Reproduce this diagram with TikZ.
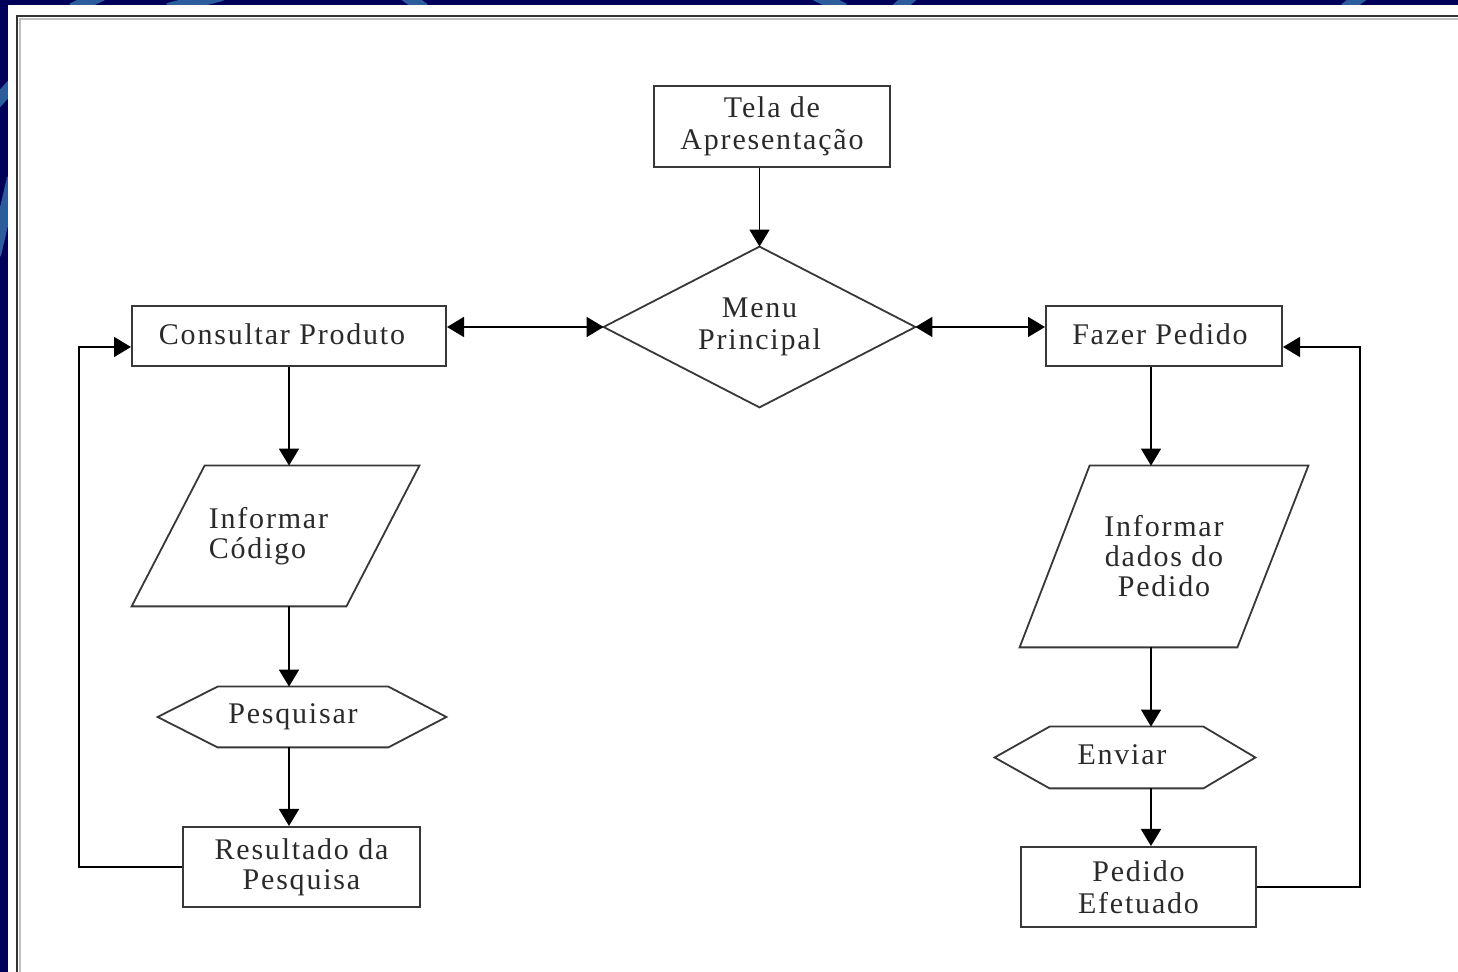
\documentclass[tikz,border=0pt]{standalone}
\usepackage{fontspec}
\setmainfont{Liberation Serif}[LetterSpace=6]
\usetikzlibrary{arrows.meta}
\definecolor{navybg}{HTML}{00005A}
\definecolor{bandblue}{HTML}{2B5C9C}
\definecolor{textgray}{HTML}{2A2A2A}
\tikzset{
  box/.style={draw=black!78, line width=1pt, inner sep=0pt, fill=white,
    font=\fontsize{15pt}{16pt}\selectfont, text=textgray, align=center},
  bbox/.style={draw=none, inner sep=0pt,
    font=\fontsize{15pt}{16pt}\selectfont, text=textgray, align=center},
  tight/.style={font=\fontsize{15pt}{15pt}\selectfont},
  outline/.style={draw=black!78, line width=0.9pt, line join=miter},
  conn/.style={draw=black, line width=0.8pt, -{Triangle[length=8.5pt,width=10pt]}},
  dconn/.style={draw=black, line width=0.8pt, {Triangle[length=8.5pt,width=10pt]}-{Triangle[length=8.5pt,width=10pt]}},
  band/.style={draw=bandblue, line width=6pt},
}
\begin{document}
\begin{tikzpicture}[x=0.5pt,y=-0.5pt]
\useasboundingbox (0,0) rectangle (1458,972);
% background
\fill[navybg] (0,0) rectangle (1458,972);
\begin{scope}[band]
  \draw (72,9) -- (102,-5);
  \draw (168,9) -- (222,-5);
  \draw (405,-5) -- (424,9);
  \draw (816,-5) -- (844,9);
  \draw (897,9) -- (913,-5);
  \draw (1345,9) -- (1363,-5);
  \draw (-5,104) -- (13,84);
  \draw (-5,255) -- (13,178);
\end{scope}
\fill[white] (8,5) rectangle (1458,972);
% frame
\draw[black!25, line width=1pt] (20,975) -- (20,19) -- (1460,19);
\draw[black!80, line width=1.4pt] (17,975) -- (17,16) -- (1460,16);

% column coordinates
\coordinate (lcol) at (289,0);
\coordinate (rcol) at (1151,0);

% nodes
\node[box, minimum width=118pt, minimum height=40.5pt] (tela) at (772,126.5) {\raisebox{-1.5pt}{Tela de}\\\raisebox{-1.5pt}{Apresentação}};
\node[bbox, minimum width=155.5pt, minimum height=80pt] (menu) at (759.5,327) {Menu\\Principal};
\node[box, minimum width=157pt, minimum height=30pt] (cons) at (289,336) {\hspace*{-7pt}\raisebox{2pt}{Consultar Produto}};
\node[box, minimum width=118pt, minimum height=30pt] (faz) at (1164,336) {\hspace*{-4pt}\raisebox{2pt}{Fazer Pedido}};
\node[bbox, tight, minimum width=143.5pt, minimum height=70pt, align=left] (inf1) at (275.5,536) {Informar\hspace*{7pt}\\Código};
\node[bbox, minimum width=144pt, minimum height=30pt] (pesq) at (302,717) {\raisebox{1pt}{Pesquisar}\hspace*{9pt}};
\node[box, tight, minimum width=118.5pt, minimum height=40pt] (res) at (301.5,867) {Resultado da\\Pesquisa};
\node[bbox, tight, minimum width=144pt, minimum height=90.5pt] (inf2) at (1164,556.5) {\raisebox{-1.5pt}{Informar}\\\raisebox{-1.5pt}{dados do}\\\raisebox{-1.5pt}{Pedido}};
\node[bbox, minimum width=130pt, minimum height=30.5pt] (env) at (1125,757.5) {\raisebox{2.5pt}{Enviar}\hspace*{3pt}};
\node[box, minimum width=117.5pt, minimum height=40pt] (pe) at (1138.5,887) {Pedido\\Efetuado};

% outlines of special shapes
\draw[outline] (menu.north) -- (menu.east) -- (menu.south) -- (menu.west) -- cycle;
\draw[outline] ([xshift=36.5pt]inf1.north west) -- (inf1.north east) -- ([xshift=-36.5pt]inf1.south east) -- (inf1.south west) -- cycle;
\draw[outline] ([xshift=35pt]inf2.north west) -- (inf2.north east) -- ([xshift=-35.5pt]inf2.south east) -- (inf2.south west) -- cycle;
\draw[outline] (pesq.west) -- ([xshift=30pt]pesq.north west) -- ([xshift=-29pt]pesq.north east) -- (pesq.east) -- ([xshift=-29pt]pesq.south east) -- ([xshift=30pt]pesq.south west) -- cycle;
\draw[outline] (env.west) -- ([xshift=27.5pt]env.north west) -- ([xshift=-26pt]env.north east) -- (env.east) -- ([xshift=-26pt]env.south east) -- ([xshift=27.5pt]env.south west) -- cycle;

% connectors
\draw[conn] (menu.north |- tela.south) -- (menu.north);
\draw[dconn] (menu.west -| cons.east) -- (menu.west);
\draw[dconn] (menu.east) -- (menu.east -| faz.west);

\draw[conn] (cons.south -| lcol) -- (inf1.north -| lcol);
\draw[conn] (inf1.south -| lcol) -- (pesq.north -| lcol);
\draw[conn] (pesq.south -| lcol) -- (res.north -| lcol);

\draw[conn] (faz.south -| rcol) -- (inf2.north -| rcol);
\draw[conn] (inf2.south -| rcol) -- (env.north -| rcol);
\draw[conn] (env.south -| rcol) -- (pe.north -| rcol);

\coordinate (lloop) at (79,347);
\coordinate (rloop) at (1360,347);
\draw[conn] (res.west) -| (lloop) -- (lloop -| cons.west);
\draw[conn] (pe.east) -| (rloop) -- (rloop -| faz.east);
\end{tikzpicture}
\end{document}
